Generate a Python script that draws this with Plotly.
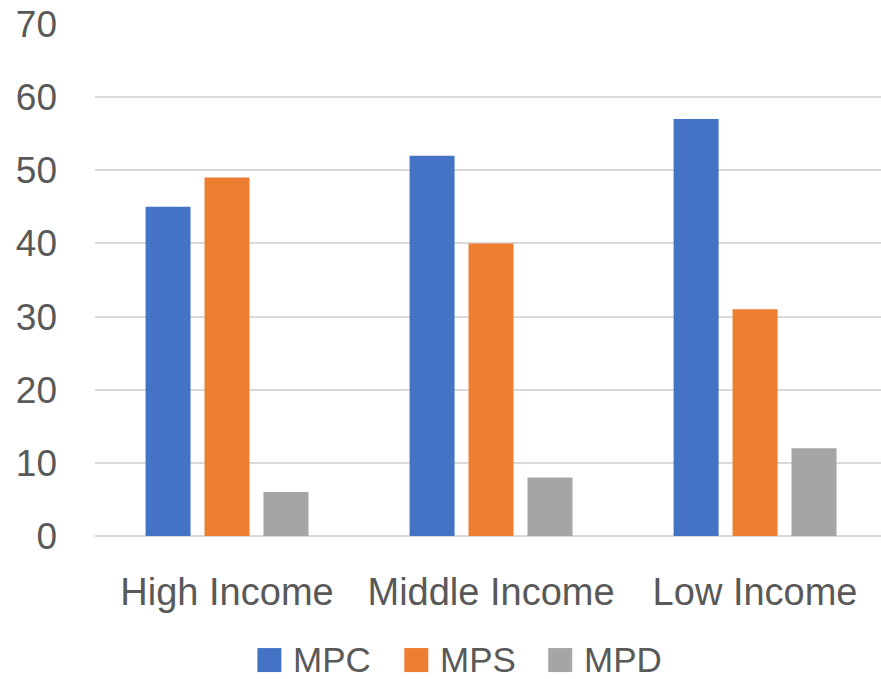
import plotly.graph_objects as go

# Data
categories = ["High Income", "Middle Income", "Low Income"]
series_names = ["MPC", "MPS", "MPD"]
mpc = [45, 52, 57]
mps = [49, 40, 31]
mpd = [6, 8, 12]
y_ticks = [0, 10, 20, 30, 40, 50, 60, 70]

colors = ["#4472C4", "#ED7D31", "#A5A5A5"]
values = [mpc, mps, mpd]

FONT = "Liberation Sans"
TEXT = "#595959"
GRID = "#D9D9D9"

W, H = 881, 679
L, R, T, B = 94.5, 0, 24.3, 143

fig = go.Figure()
for name, vals, col in zip(series_names, values, colors):
    fig.add_trace(go.Bar(x=categories, y=vals, name=name,
                         marker=dict(color=col, line=dict(width=0)),
                         showlegend=False))

# Legend drawn as coloured squares plus labels below the plot
plot_w = W - L - R
plot_h = H - T - B
def fx(p):
    return (p - L) / plot_w
def fy(p):
    return (H - B - p) / plot_h

legend_x = [257, 404, 548]
legend_cy = 660
sq = 24
for name, col, x0 in zip(series_names, colors, legend_x):
    fig.add_shape(type="rect", xref="paper", yref="paper",
                  x0=fx(x0), x1=fx(x0 + sq),
                  y0=fy(legend_cy + sq / 2), y1=fy(legend_cy - sq / 2),
                  fillcolor=col, line=dict(width=0))
    fig.add_annotation(xref="paper", yref="paper", x=fx(x0 + sq + 11),
                       y=fy(legend_cy - 1), text=name, showarrow=False,
                       xanchor="left", yanchor="middle",
                       valign="middle", borderpad=0,
                       font=dict(family=FONT, size=35, color=TEXT))

fig.update_layout(
    width=W, height=H,
    margin=dict(l=L, r=R, t=T, b=B, pad=0),
    paper_bgcolor="white", plot_bgcolor="white",
    barmode="group", bargap=0.33, bargroupgap=0.237,
    font=dict(family=FONT, color=TEXT),
)
fig.update_xaxes(range=[-0.5, 2.477], showgrid=False, showline=False,
                 ticks="", ticklabelstandoff=30,
                 tickfont=dict(family=FONT, size=38, color=TEXT))
fig.update_yaxes(range=[0, 70], tickvals=y_ticks, showgrid=True,
                 gridcolor=GRID, gridwidth=1.5, zeroline=True,
                 zerolinecolor=GRID, zerolinewidth=1.5, showline=False,
                 ticks="", ticklabelstandoff=37,
                 tickfont=dict(family=FONT, size=37, color=TEXT))

fig.write_html("out.html")
